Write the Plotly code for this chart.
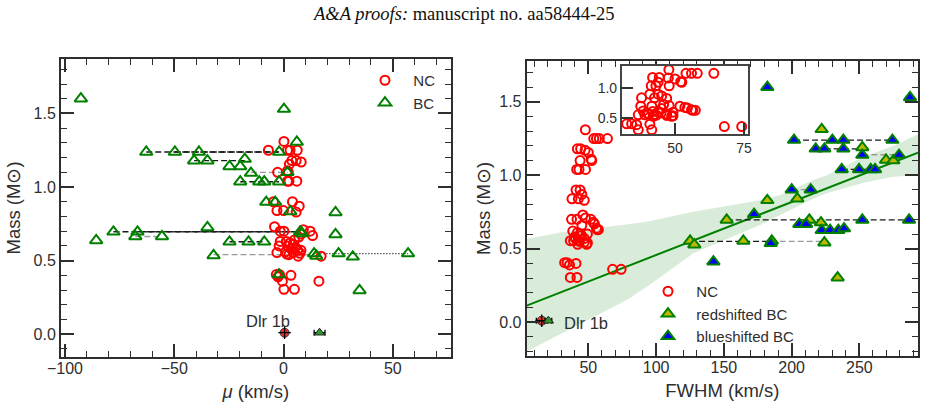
import plotly.graph_objects as go
import numpy as np

# ---------------- data ----------------
# narrow components (NC): mass, centroid velocity mu, FWHM
nc_mass = [1.31, 1.25, 1.25, 1.25, 1.25, 1.18, 1.18, 1.17, 1.155, 1.11, 1.10, 1.10,
           1.04, 1.04, 1.04, 0.90, 0.90, 0.87, 0.84, 0.84, 0.83, 0.73, 0.70, 0.70,
           0.71, 0.70, 0.67, 0.68, 0.66, 0.64, 0.63, 0.63, 0.62, 0.61, 0.60, 0.60,
           0.59, 0.58, 0.57, 0.56, 0.555, 0.555, 0.55, 0.54, 0.53, 0.545, 0.53, 0.57,
           0.405, 0.405, 0.40, 0.39, 0.36, 0.36, 0.305, 0.305]
nc_mu = [0.2, -6.9, 1.8, 6.3, 3.0, 3.8, 5.8, 8.1, 2.7, 1.8, -2.7, 2.2,
         1.8, 6.1, 2.5, -4.6, 4.1, 7.2, -3.0, 0.0, 5.8, -4.1, -1.5, 0.2,
         9.1, 12.2, 13.3, 8.0, 7.0, 5.0, -1.5, 1.3, 3.0, 4.5, -2.0, 2.0,
         5.5, 3.5, 6.5, 1.0, -3.0, 4.5, 7.5, 2.5, 6.7, 1.5, 17.2, 8.0,
         -3.3, -1.8, 3.4, -2.5, -0.5, 16.2, 0.2, 5.0]
nc_fwhm = [47.8, 54.0, 56.0, 58.1, 64.1, 41.9, 44.3, 47.6, 50.0, 52.1, 43.9, 52.5,
           43.1, 47.9, 41.4, 40.9, 43.9, 45.2, 37.9, 42.6, 47.0, 45.9, 37.6, 41.6,
           47.9, 51.8, 54.5, 53.6, 45.2, 56.0, 56.5, 57.4, 38.5, 41.9, 43.9, 49.3,
           45.0, 40.0, 47.0, 42.5, 36.7, 39.1, 43.3, 49.3, 48.8, 47.0, 42.1, 40.5,
           32.5, 34.3, 40.9, 36.1, 67.9, 74.2, 36.7, 41.6]

# broad components (BC), left panel: mu vs mass
bc_mu = [-92.7, 0.2, 6.1, -62.8, -49.7, -38.7, -2.0, -40.9, -34.8, -17.7, -24.7, -19.8,
         -14.9, 1.8, -19.8, -11.1, -8.8, -2.0, -7.9, -3.8, 3.1, 23.8, -34.8, -77.8,
         -66.8, -67.8, -55.6, -85.7, 7.6, 8.5, 23.8, -24.7, -16.0, -8.8, -32.0, 14.0,
         15.0, 25.2, 31.7, 57.0, -2.1, 34.8]
bc_mass_left = [1.60, 1.53, 1.306, 1.238, 1.238, 1.238, 1.238, 1.179, 1.179, 1.19, 1.14, 1.14,
                1.095, 1.10, 1.036, 1.036, 1.036, 1.036, 0.898, 0.898, 0.834, 0.827, 0.725, 0.696,
                0.696, 0.664, 0.664, 0.637, 0.696, 0.685, 0.678, 0.628, 0.628, 0.628, 0.535, 0.548,
                0.532, 0.548, 0.526, 0.548, 0.405, 0.297]

# broad components, right panel: FWHM vs mass, shift direction
bc_fwhm = [182.1, 287.4, 222.2, 201.8, 230.1, 238.2, 274.4, 217.8, 224.2, 238.2, 252.2, 252.2,
           279.3, 269.7, 275.1, 237.0, 249.8, 258.4, 261.6, 200.1, 214.1, 182.1, 204.2, 172.3,
           152.1, 252.2, 286.7, 213.1, 205.7, 210.7, 221.7, 222.2, 228.4, 234.5, 238.7, 125.1,
           128.2, 164.4, 185.4, 184.6, 224.2, 142.3, 234.0]
bc_mass_right = [1.60, 1.53, 1.313, 1.24, 1.24, 1.24, 1.24, 1.18, 1.18, 1.18, 1.19, 1.138,
                 1.138, 1.104, 1.10, 1.04, 1.04, 1.04, 1.04, 0.902, 0.902, 0.83, 0.841, 0.735,
                 0.696, 0.696, 0.696, 0.696, 0.667, 0.667, 0.678, 0.626, 0.626, 0.626, 0.637, 0.553,
                 0.528, 0.553, 0.553, 0.537, 0.541, 0.412, 0.303]
bc_shift = ["b", "b", "r", "b", "b", "b", "b", "b", "b", "b", "r", "b",
            "b", "r", "r", "b", "b", "b", "b", "b", "b", "r", "r", "b",
            "r", "b", "b", "r", "b", "b", "r", "b", "b", "b", "b", "r",
            "r", "r", "r", "b", "r", "b", "r"]

# links joining components of one source (k = black dashed, g = grey dashed, d = dotted)
left_link_x0 = [-62.8, -49.7, -40.9, -14.9, -19.8, -77.8, -66.8, -67.8, -24.7, -32.0, 14.0]
left_link_x1 = [-2.0, -2.0, -17.7, 1.8, -2.0, 7.6, 7.6, -55.6, -8.8, 14.0, 57.0]
left_link_mass = [1.238, 1.238, 1.18, 1.10, 1.036, 0.696, 0.696, 0.664, 0.628, 0.54, 0.548]
left_link_style = ["k", "k", "k", "g", "k", "k", "k", "g", "k", "g", "d"]

right_link_x0 = [201.8, 217.8, 252.2, 237.0, 200.1, 152.1, 125.1, 184.6]
right_link_x1 = [274.4, 252.2, 279.3, 261.6, 214.1, 286.7, 184.6, 224.2]
right_link_mass = [1.24, 1.18, 1.14, 1.04, 0.902, 0.696, 0.55, 0.55]
right_link_style = ["k", "k", "g", "k", "g", "k", "k", "g"]

# Dlr 1b
dlr_nc_mu, dlr_bc_mu = [0.5], [16.5]
dlr_nc_fwhm, dlr_bc_fwhm = [15.6], [20.5]
dlr_mass = [0.01]
dlr_fwhm_err = [4.0]
dlr_bc_mu_err, dlr_bc_fwhm_err = [2.5], [2.5]

# regression line and confidence band
reg_slope, reg_intercept = 0.003605, 0.0968
band_fwhm = [4.5, 29.0, 78.0, 93.0, 127.5, 176.7, 191.5, 216.0, 226.0, 253.0, 275.0, 293.3]
band_upper = [0.567, 0.61, 0.665, 0.684, 0.752, 0.83, 0.866, 0.968, 1.0, 1.127, 1.2, 1.28]
band_lower = [-0.2, -0.087, 0.15, 0.24, 0.469, 0.662, 0.73, 0.84, 0.877, 0.95, 0.99, 1.0]

# ---------------- style ----------------
FONT = "Liberation Sans, Arial, sans-serif"
AX = "#2e2e2e"
RED = "#ff0000"
GREEN = "#008000"
PAD = "\u00a0\u00a0"

fig = go.Figure()


def add_links(x0s, x1s, ys, styles, xa, ya):
    spec = {"k": ("#1a1a1a", "6px,3px", 1.3), "g": ("#999999", "6px,3px", 1.3),
            "d": ("#555555", "1.5px,1.5px", 1.3)}
    for key, (col, dash, w) in spec.items():
        xs, yy = [], []
        for a, b, y, s in zip(x0s, x1s, ys, styles):
            if s == key:
                xs += [a, b, None]
                yy += [y, y, None]
        if xs:
            fig.add_trace(go.Scatter(x=xs, y=yy, mode="lines", xaxis=xa, yaxis=ya,
                                     line=dict(color=col, width=w, dash=dash),
                                     showlegend=False, hoverinfo="skip"))


# ---- left panel ----
add_links(left_link_x0, left_link_x1, left_link_mass, left_link_style, "x", "y")
fig.add_trace(go.Scatter(x=nc_mu, y=nc_mass, mode="markers", name=PAD + "NC", xaxis="x", yaxis="y",
                         marker=dict(symbol="circle-open", size=9, color=RED, line=dict(width=2, color=RED)),
                         legend="legend"))
fig.add_trace(go.Scatter(x=bc_mu, y=bc_mass_left, mode="markers", name=PAD + "BC", xaxis="x", yaxis="y",
                         marker=dict(symbol="triangle-up-open", size=11, color=GREEN, line=dict(width=2, color=GREEN)),
                         legend="legend"))
fig.add_trace(go.Scatter(x=dlr_nc_mu, y=dlr_mass, mode="markers", xaxis="x", yaxis="y", showlegend=False,
                         marker=dict(symbol="circle", size=9, color="#e83030", line=dict(width=1, color="#333"))))
fig.add_trace(go.Scatter(x=dlr_nc_mu, y=dlr_mass, mode="markers", xaxis="x", yaxis="y", showlegend=False,
                         marker=dict(symbol="cross-thin", size=9, color="black", line=dict(width=1.3, color="black"))))
fig.add_trace(go.Scatter(x=dlr_bc_mu, y=dlr_mass, mode="markers", xaxis="x", yaxis="y", showlegend=False,
                         error_x=dict(type="data", array=dlr_bc_mu_err, color="black", thickness=1.3, width=3),
                         marker=dict(symbol="triangle-up", size=9, color="#2e9a2e", line=dict(width=1, color="#222"))))

# ---- right panel ----
xs_line = np.array([4.5, 293.3])
fig.add_trace(go.Scatter(x=band_fwhm + band_fwhm[::-1], y=band_upper + band_lower[::-1],
                         mode="lines", fill="toself", fillcolor="rgba(0,128,0,0.15)",
                         line=dict(width=0), xaxis="x2", yaxis="y2", showlegend=False, hoverinfo="skip"))
fig.add_trace(go.Scatter(x=xs_line, y=reg_intercept + reg_slope * xs_line, mode="lines",
                         line=dict(color=GREEN, width=2), xaxis="x2", yaxis="y2", showlegend=False))
add_links(right_link_x0, right_link_x1, right_link_mass, right_link_style, "x2", "y2")
fig.add_trace(go.Scatter(x=nc_fwhm, y=nc_mass, mode="markers", name=PAD + "NC", xaxis="x2", yaxis="y2",
                         marker=dict(symbol="circle-open", size=9, color=RED, line=dict(width=2, color=RED)),
                         legend="legend2"))
rx = [f for f, s in zip(bc_fwhm, bc_shift) if s == "r"]
ry = [m for m, s in zip(bc_mass_right, bc_shift) if s == "r"]
bx = [f for f, s in zip(bc_fwhm, bc_shift) if s == "b"]
by = [m for m, s in zip(bc_mass_right, bc_shift) if s == "b"]
fig.add_trace(go.Scatter(x=rx, y=ry, mode="markers", name=PAD + "redshifted BC", xaxis="x2", yaxis="y2",
                         marker=dict(symbol="triangle-up", size=11, color="#c0b800", line=dict(width=2, color=GREEN)),
                         legend="legend2"))
fig.add_trace(go.Scatter(x=bx, y=by, mode="markers", name=PAD + "blueshifted BC", xaxis="x2", yaxis="y2",
                         marker=dict(symbol="triangle-up", size=11, color="#0000ff", line=dict(width=2, color=GREEN)),
                         legend="legend2"))
fig.add_trace(go.Scatter(x=dlr_nc_fwhm, y=dlr_mass, mode="markers", xaxis="x2", yaxis="y2", showlegend=False,
                         error_x=dict(type="data", array=dlr_fwhm_err, color="black", thickness=1.3, width=3),
                         marker=dict(symbol="circle", size=9, color="#e83030", line=dict(width=1, color="#333"))))
fig.add_trace(go.Scatter(x=dlr_nc_fwhm, y=dlr_mass, mode="markers", xaxis="x2", yaxis="y2", showlegend=False,
                         marker=dict(symbol="cross-thin", size=9, color="black", line=dict(width=1.3, color="black"))))
fig.add_trace(go.Scatter(x=dlr_bc_fwhm, y=dlr_mass, mode="markers", xaxis="x2", yaxis="y2", showlegend=False,
                         error_x=dict(type="data", array=dlr_bc_fwhm_err, color="black", thickness=1.3, width=3),
                         marker=dict(symbol="triangle-up", size=9, color="#2e9a2e", line=dict(width=1, color="#222"))))

# ---- inset ----
fig.add_trace(go.Scatter(x=nc_fwhm, y=nc_mass, mode="markers", xaxis="x3", yaxis="y3", showlegend=False,
                         marker=dict(symbol="circle-open", size=9, color=RED, line=dict(width=2, color=RED))))


def axis(domain, rng, dtick, minor, anchor, fmt=None, title=None, standoff=8, labelstandoff=0):
    d = dict(domain=domain, range=rng, dtick=dtick, tick0=0, anchor=anchor, automargin=False,
             showline=True, linewidth=2, linecolor=AX, mirror="allticks",
             ticks="inside", ticklen=13, tickwidth=1.6, tickcolor=AX,
             minor=dict(ticks="inside", ticklen=6, tickwidth=1.2, tickcolor=AX, dtick=minor),
             showgrid=False, zeroline=False, ticklabelstandoff=labelstandoff,
             tickfont=dict(family=FONT, size=16, color=AX))
    if fmt:
        d["tickformat"] = fmt
    if title:
        d["title"] = dict(text=title, font=dict(family=FONT, size=18.5, color=AX), standoff=standoff)
    return d


H = 409.0
W = 926.0
fig.update_layout(
    width=926, height=409, margin=dict(l=0, r=0, t=0, b=0, autoexpand=False),
    paper_bgcolor="white", plot_bgcolor="white",
    xaxis=axis([61 / W, 450.7 / W], [-101.8, 76.5], 50, 10, "y", title="<i>μ</i> (km/s)", standoff=9,
               labelstandoff=-4),
    yaxis=axis([1 - 357 / H, 1 - 59 / H], [-0.155, 1.87], 0.5, 0.1, "x", fmt=".1f", title="Mass (M⊙)", standoff=8),
    xaxis2=axis([526.7 / W, 918 / W], [4.5, 293.3], 50, 10, "y2", title="FWHM (km/s)", standoff=9,
                labelstandoff=-4),
    yaxis2=axis([1 - 356 / H, 1 - 60.7 / H], [-0.23, 1.78], 0.5, 0.1, "x2", fmt=".1f", title="Mass (M⊙)", standoff=4),
    xaxis3=dict(domain=[621.7 / W, 747.5 / W], range=[30.7, 76.3], tickvals=[50, 75], anchor="y3", automargin=False,
                showline=True, linewidth=1.5, linecolor="#444", mirror=True, ticks="inside", ticklen=12,
                tickwidth=1.5, tickcolor="#333", showgrid=False, zeroline=False,
                tickfont=dict(family=FONT, size=14, color=AX)),
    yaxis3=dict(domain=[1 - 134.3 / H, 1 - 65.5 / H], range=[0.23, 1.38], tickvals=[0.5, 1.0], anchor="x3",
                automargin=False, tickformat=".1f", showline=True, linewidth=1.5, linecolor="#444", mirror=True,
                ticks="inside", ticklen=12, tickwidth=1.5, tickcolor="#333", showgrid=False, zeroline=False,
                tickfont=dict(family=FONT, size=14, color=AX)),
    legend=dict(x=365 / W, y=1 - 64 / H, xanchor="left", yanchor="top", bgcolor="rgba(0,0,0,0)",
                font=dict(family=FONT, size=15, color=AX), tracegroupgap=0),
    legend2=dict(x=648 / W, y=1 - 275 / H, xanchor="left", yanchor="top", bgcolor="rgba(0,0,0,0)",
                 font=dict(family=FONT, size=15, color=AX), tracegroupgap=0),
    annotations=[
        dict(text="<i>A&A proofs:</i> manuscript no. aa58444-25", x=0.5, y=1 - 14 / H, xref="paper", yref="paper",
             showarrow=False, font=dict(family="Liberation Serif, Times New Roman, serif", size=18.5, color="#111"),
             xanchor="center", yanchor="middle"),
        dict(text="Dlr 1b", x=-7.0, y=0.093, xref="x", yref="y", showarrow=False,
             font=dict(family=FONT, size=16.5, color=AX), xanchor="center", yanchor="middle"),
        dict(text="Dlr 1b", x=30.4, y=-0.007, xref="x2", yref="y2", showarrow=False,
             font=dict(family=FONT, size=16.5, color=AX), xanchor="left", yanchor="middle"),
    ],
)

fig.write_html("out.html")
